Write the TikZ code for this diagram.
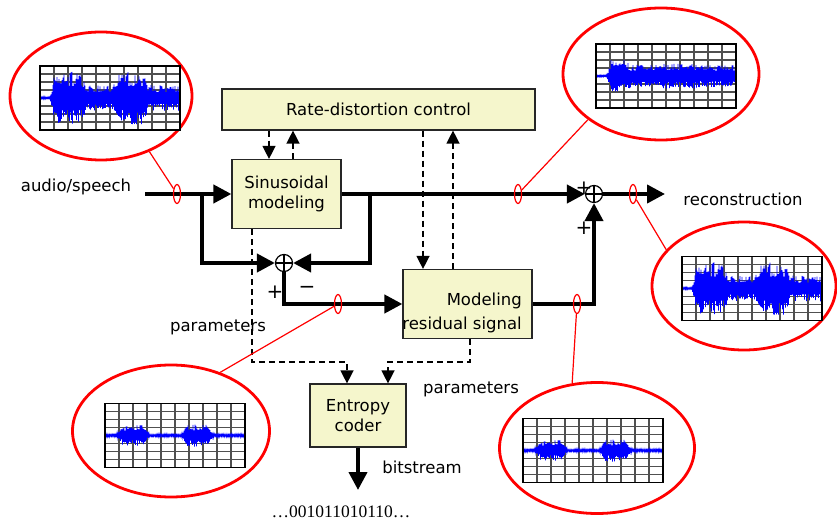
\documentclass[tikz,border=0pt]{standalone}
\usepackage{fontspec}
\setmainfont{DejaVu Sans}
\newfontfamily\bitfont{Liberation Serif}
\usetikzlibrary{arrows.meta,shapes.geometric}

\definecolor{boxfill}{RGB}{245,246,204}
\definecolor{gridgray}{RGB}{80,80,80}

% left end x, middle y, envelope in \x, seed
\newcommand{\speechplot}[4]{%
  \begin{scope}[shift={(#1,#2)},x=140pt,y=32pt]
    \fill[white] (0,-1) rectangle (1,1);
    \draw[gridgray,line width=1.2pt,xstep=0.1,ystep=0.25] (0,-1) grid (1,1);
    \pgfmathsetseed{#4}
    \draw[blue,line width=0.6pt] plot[domain=0:1,samples=281] (\x,{(#3)*(1-2*mod(round(\x*280),2))*(0.45+0.55*rnd)});
    \draw[line width=1.4pt] (0,-1) rectangle (1,1);
  \end{scope}}
\def\envspeech{0.04+0.36*min(1,max(0,(\x-0.07)/0.03))+0.42*min(1,max(0,(0.13-abs(\x-0.2))/0.04))+0.42*min(1,max(0,(0.13-abs(\x-0.65))/0.04))}
\def\envsine{0.03+0.32*min(1,max(0,(\x-0.08)/0.02))+0.16*min(1,max(0,(0.09-abs(\x-0.16))/0.04))+0.05*min(1,max(0,(0.15-abs(\x-0.6))/0.05))}
\def\envresid{0.05+0.27*min(1,max(0,(0.12-abs(\x-0.2))/0.05))+0.3*min(1,max(0,(0.12-abs(\x-0.66))/0.05))}

\begin{document}
\begin{tikzpicture}[x=1pt,y=-1pt,font=\fontsize{16.5}{20}\selectfont,>={Triangle[length=18pt,width=18pt]}]
\tikzstyle{block}=[draw=black!85,line width=1.2pt,fill=boxfill,align=center,inner sep=2pt]
\tikzstyle{summer}=[circle,draw,line width=1.2pt,fill=white,minimum size=17pt,inner sep=0pt]
\tikzstyle{signal}=[line width=4pt]
\tikzstyle{ctrl}=[line width=1.4pt,dash pattern=on 6pt off 4pt,-{Triangle[length=13pt,width=13pt]}]
\tikzstyle{probe}=[ellipse,draw=red,line width=1.2pt,minimum width=7pt,minimum height=19pt,inner sep=0pt]
\tikzstyle{bubble}=[ellipse,draw=red,line width=2.8pt,inner sep=0pt]
\tikzstyle{sign}=[font=\fontsize{20}{20}\selectfont,inner sep=0pt]

\useasboundingbox (0,0) rectangle (837,526);

% blocks
\node[block,minimum width=313pt,minimum height=41pt] (rdc) at (378.5,109.5) {Rate-distortion control};
\node[block,minimum width=109pt,minimum height=69pt] (sin) at (286.5,194) {Sinusoidal\\modeling};
\node[block,minimum width=129pt,minimum height=69pt] (res) at (467.5,304) {};
\node[align=right,anchor=east,inner sep=0pt] (restxt) at (522,313) {Modeling\\[4pt]residual signal};
\node[block,minimum width=96pt,minimum height=63pt] (ent) at (358,415.5) {Entropy\\coder};

\node[summer] (s1) at (284,263) {};
\node[summer] (s2) at (594,194) {};

\coordinate (in) at (145,194);
\coordinate (fb1) at (202,194);
\coordinate (fb2) at (370,194);
\coordinate (out) at (665,194);
\coordinate (bit) at (358,490);

% signal paths
\draw[signal,->] (in) -- (sin.west);
\draw[signal,->] (fb1) |- (s1.west);
\draw[signal,->] (fb2) |- (s1.east);
\draw[signal,->] (sin.east) -- (s2.west);
\draw[signal,->] (s1.south) |- (res.west);
\draw[signal,->] (res.east) -| (s2.south);
\draw[signal,->] (s2.east) -- (out);
\draw[signal,->] (ent.south) -- (bit);
\foreach \s in {s1,s2}
  \draw[line width=1.2pt] (\s.north) -- (\s.south) (\s.west) -- (\s.east);

% control and parameter paths
\coordinate (c1) at ([xshift=-17.5pt]sin.north);
\coordinate (c2) at ([xshift=6.5pt]sin.north);
\coordinate (c3) at ([xshift=-44.5pt]res.north);
\coordinate (c4) at ([xshift=-14.5pt]res.north);
\draw[ctrl] (c1 |- rdc.south) -- (c1);
\draw[ctrl] (c2) -- (c2 |- rdc.south);
\draw[ctrl] (c3 |- rdc.south) -- (c3);
\draw[ctrl] (c4) -- (c4 |- rdc.south);

\coordinate (pbus) at (0,362);
\coordinate (p1) at ([xshift=-34.5pt]sin.south);
\coordinate (p2) at ([xshift=2.5pt]res.south);
\coordinate (e1) at ([xshift=-11pt]ent.north);
\coordinate (e2) at ([xshift=30pt]ent.north);
\draw[ctrl] (p1) -- (p1 |- pbus) -| (e1);
\draw[ctrl] (p2) -- (p2 |- pbus) -| (e2);

% labels
\node (lin) at (76,187) {audio/speech};
\node (lrec) at (743,199) {reconstruction};
\node (lpar1) at (218,327) {parameters};
\node (lpar2) at (471,389) {parameters};
\node (lbit) at (422,467) {bitstream};
\node[font=\bitfont\fontsize{17.5}{20}\selectfont] (lbits) at (341,512) {…001011010110…};
\node[sign] (pl1) at (275,292) {+};
\node[sign] (mi1) at (307,290) {−};
\node[sign] (pl2) at (584,188) {+};
\node[sign] (pl3) at (584,228) {+};

% waveform bubbles
\node[bubble,minimum width=182pt,minimum height=128pt] (bub1) at (101,96) {};
\node[bubble,minimum width=196pt,minimum height=132pt] (bub2) at (661,74) {};
\node[bubble,minimum width=184pt,minimum height=128pt] (bub3) at (744,286) {};
\node[bubble,minimum width=197pt,minimum height=132pt] (bub4) at (171,431) {};
\node[bubble,minimum width=195pt,minimum height=131pt] (bub5) at (597,448) {};
\speechplot{40}{98}{\envspeech}{11}
\speechplot{596}{76}{\envsine}{23}
\speechplot{682}{288.5}{\envspeech}{11}
\speechplot{105}{435.5}{\envresid}{37}
\speechplot{523}{450.5}{\envresid}{37}

\node[probe] (pin) at (177,194) {};
\node[probe] (psin) at (518,194) {};
\node[probe] (pout) at (633,194) {};
\node[probe] (pres) at (338,304) {};
\node[probe] (prout) at (577,304) {};
\draw[red,line width=1.2pt] (pin) -- (bub1.311)
  (psin) -- (bub2.212)
  (pout) -- (bub3.155)
  (pres) -- (bub4.50)
  (prout) -- (bub5.111);
\end{tikzpicture}
\end{document}
